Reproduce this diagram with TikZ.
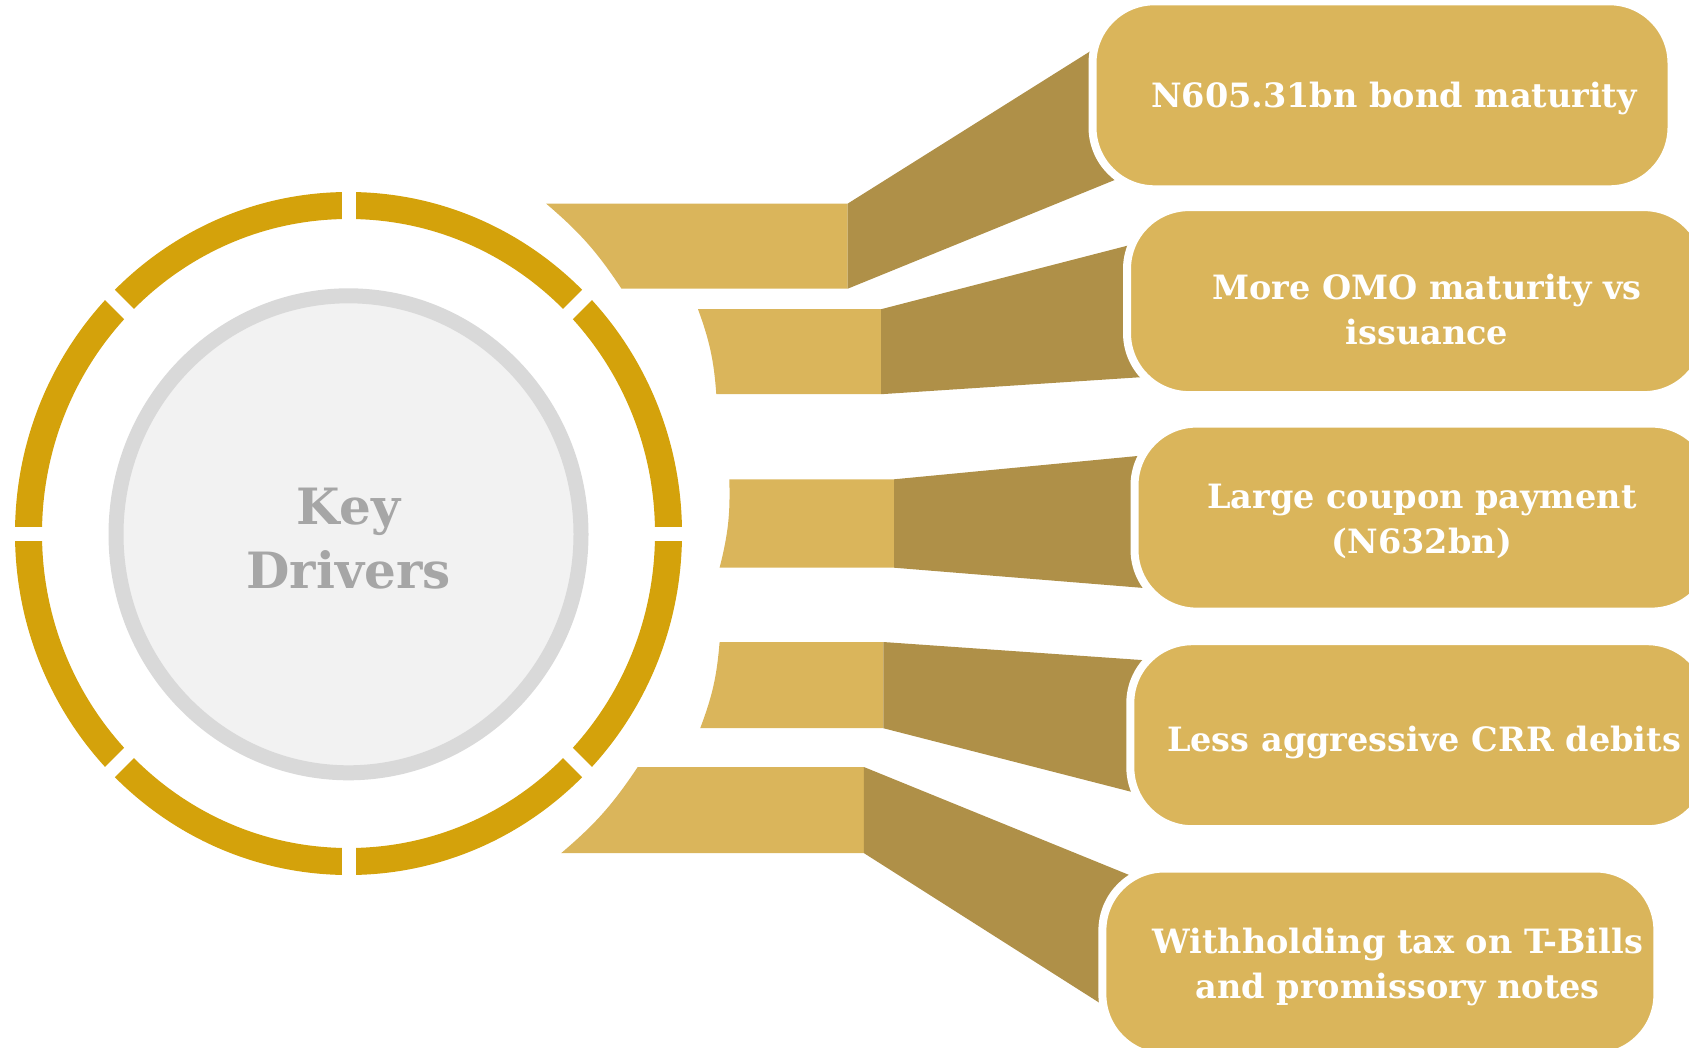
\documentclass[tikz,border=0pt]{standalone}
\usepackage{fontspec}
\setmainfont{DejaVu Serif}

\definecolor{ringgold}{HTML}{D4A20B}
\definecolor{lightgold}{HTML}{DAB55B}
\definecolor{darkgold}{HTML}{AF9048}
\definecolor{discfill}{HTML}{F2F2F2}
\definecolor{discline}{HTML}{D9D9D9}
\definecolor{keygray}{HTML}{A6A6A6}

\tikzset{
  drvbox/.style={fill=lightgold, draw=white, line width=8pt, rounded corners=62pt,
    minimum height=188pt, inner sep=0pt},
  drvtext/.style={text=white, align=center, font=\bfseries\fontsize{33.5pt}{45pt}\selectfont},
  keytext/.style={text=keygray, align=center, font=\bfseries\fontsize{50pt}{64pt}\selectfont},
}

\begin{document}
\begin{tikzpicture}[x=1pt, y=-1pt]
  \useasboundingbox (0,0) rectangle (1689,1047);
  \clip (0,0) rectangle (1689,1047);

  % ring cut into eight pieces
  \draw[ringgold, line width=27pt] (348.5,533.5) ellipse [x radius=320, y radius=328];
  \foreach \a in {0,45,90,135}
    \draw[white, line width=14pt, shift={(348.5,533.5)}] (\a:380) -- (\a+180:380);

  % centre disc
  \draw[discline, fill=discfill, line width=15pt] (348.5,534.3) ellipse [x radius=232.5, y radius=238.5];
  \node[keytext] (key) at (348.5,539) {Key\\Drivers};

  % bands: light foot, then dark wedge running under the box
  \fill[lightgold] (546.1,203.6) -- (847.7,203.6) -- (847.7,288.7) -- (621.5,288.7) to[bend right=8] (546.1,203.6) -- cycle;
  \fill[darkgold] (847.7,203.6) -- (1110.7,38.4) -- (1142.1,168.8) -- (847.7,288.7) -- cycle;

  \fill[lightgold] (698,309.2) -- (881.1,309.2) -- (881.1,394.2) -- (716.3,394.2) to[bend right=8] (698,309.2) -- cycle;
  \fill[darkgold] (881.1,309.2) -- (1147.5,240.5) -- (1165,375.6) -- (881.1,394.2) -- cycle;

  \fill[lightgold] (729.3,479.3) -- (894,479.3) -- (894,567.7) -- (719.6,567.7) to[bend right=8] (729.3,479.3) -- cycle;
  \fill[darkgold] (894,479.3) -- (1161.5,453.7) -- (1163.9,589.6) -- (894,567.7) -- cycle;

  \fill[lightgold] (719.6,642) -- (883.3,642) -- (883.3,728.2) -- (700.2,728.2) to[bend right=8] (719.6,642) -- cycle;
  \fill[darkgold] (883.3,642) -- (1167.1,661.8) -- (1150.8,796.8) -- (883.3,728.2) -- cycle;

  \fill[lightgold] (637.7,767) -- (863.9,767) -- (863.9,853.1) -- (561.2,853.1) to[bend right=8] (637.7,767) -- cycle;
  \fill[darkgold] (863.9,767) -- (1158.2,886.8) -- (1125.7,1019.5) -- (863.9,853.1) -- cycle;

  % driver boxes
  \node[drvbox, minimum width=579pt] (bond) at (1382,95.3) {};
  \node[drvbox, minimum width=579pt] (omo) at (1416.5,301.1) {};
  \node[drvbox, minimum width=579pt] (coupon) at (1424,517.6) {};
  \node[drvbox, minimum width=579pt] (crr) at (1419.8,735.2) {};
  \node[drvbox, minimum width=555pt] (wht) at (1379.9,962.5) {};

  \node[drvtext] (bondtxt) at (1394,98.6) {N605.31bn bond maturity};
  \node[drvtext] (omotxt) at (1427,309.2) {More OMO maturity vs\\issuance};
  \node[drvtext] (coupontxt) at (1421.9,521) {Large coupon payment\\(N632bn)};
  \node[drvtext] (crrtxt) at (1424,742.8) {Less aggressive CRR debits};
  \node[drvtext] (whttxt) at (1397.7,967) {Withholding tax on T-Bills\\and promissory notes};
\end{tikzpicture}
\end{document}
